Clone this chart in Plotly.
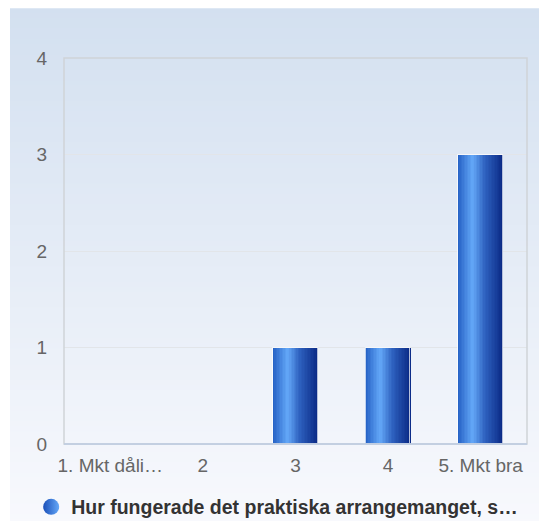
import plotly.graph_objects as go

# survey answers and counts
categories = ['1. Mkt dåli…', '2', '3', '4', '5. Mkt bra']
counts = [0, 0, 1, 1, 3]
series_name = 'Hur fungerade det praktiska arrangemanget, s…'
y_ticks = [0, 1, 2, 3, 4]


def hex_to_rgb(h):
    h = h.lstrip('#')
    return tuple(int(h[i:i + 2], 16) for i in (0, 2, 4))


def blend(stops, t):
    # stops: list of (pos, hex)
    for (p0, c0), (p1, c1) in zip(stops[:-1], stops[1:]):
        if p0 <= t <= p1:
            f = (t - p0) / (p1 - p0) if p1 > p0 else 0
            a, b = hex_to_rgb(c0), hex_to_rgb(c1)
            return 'rgb(%d,%d,%d)' % tuple(round(a[k] + (b[k] - a[k]) * f) for k in range(3))
    return stops[-1][1]


bar_stops = [(0, '#2460c4'), (0.33, '#64a8f8'), (0.6, '#2f62c0'), (1, '#0a2a86')]
bg_stops = [(0, '#d3e0f0'), (1, '#f8f9fd')]

fig = go.Figure()

# bars drawn as thin vertical slices to fake the horizontal gradient
n_slices = 30
bar_w = 0.48
slice_w = bar_w / n_slices
for i in range(n_slices):
    fig.add_trace(go.Bar(
        x=categories, y=counts,
        width=slice_w * 1.15,
        offset=-bar_w / 2 + i * slice_w,
        marker=dict(color=blend(bar_stops, (i + 0.5) / n_slices), line=dict(width=0)),
        showlegend=False, hoverinfo='skip',
    ))

# light outline around each bar
fig.add_trace(go.Bar(
    x=categories, y=counts, width=bar_w, offset=-bar_w / 2,
    marker=dict(color='rgba(0,0,0,0)', line=dict(color='rgba(255,255,255,0.7)', width=1)),
    showlegend=False, hoverinfo='skip',
))

# legend entry
fig.add_trace(go.Scatter(
    x=[None], y=[None], mode='markers', name='<b>' + series_name + '</b>',
    marker=dict(symbol='circle', size=18, color='#1a4fb8',
                gradient=dict(type='horizontal', color='#64a8f8'), line=dict(width=0)),
))

# background gradient (paper coords, plot area is 0..1)
# page body has an 8px margin, figure is sized so it ends at the window edge
shapes = []
n_bg = 100
x0, x1 = -0.1166, 1.05
y_top, y_bot = 1.127, -0.21
for i in range(n_bg):
    ya = y_top - (y_top - y_bot) * i / n_bg
    yb = y_top - (y_top - y_bot) * (i + 1) / n_bg
    shapes.append(dict(type='rect', xref='paper', yref='paper', x0=x0, x1=x1, y0=yb, y1=ya + 0.002,
                       fillcolor=blend(bg_stops, (i + 0.5) / n_bg), line=dict(width=0), layer='below'))
# plot frame
shapes.append(dict(type='rect', xref='paper', yref='paper', x0=0, x1=1, y0=0, y1=1,
                   line=dict(color='#cfd3d8', width=1.5), layer='above'))
shapes.append(dict(type='line', xref='paper', yref='paper', x0=0, x1=1, y0=0, y1=0,
                   line=dict(color='#bccbe2', width=1.5), layer='above'))

fig.update_layout(
    width=539, height=513,
    margin=dict(l=56, r=20, t=50, b=77),
    paper_bgcolor='white',
    plot_bgcolor='rgba(0,0,0,0)',
    barmode='overlay',
    bargap=0,
    font=dict(family='Liberation Sans, Arial, sans-serif', size=19, color='#666666'),
    shapes=shapes,
    showlegend=True,
    legend=dict(orientation='h', xref='container', yref='container',
                x=0.043, xanchor='left', y=0.027, yanchor='middle',
                font=dict(size=19.5, color='#333333', family='Liberation Sans, Arial, sans-serif'),
                bgcolor='rgba(0,0,0,0)', itemclick=False),
    xaxis=dict(showgrid=False, zeroline=False, showline=False, ticks='outside', ticklen=4,
               tickcolor='rgba(0,0,0,0)', fixedrange=True),
    yaxis=dict(range=[0, 4], tickvals=y_ticks, gridcolor='#e2e5e9', gridwidth=1, zeroline=False,
               showline=False, ticks='outside', ticklen=12, tickcolor='rgba(0,0,0,0)', fixedrange=True),
)

fig.write_html("out.html")
